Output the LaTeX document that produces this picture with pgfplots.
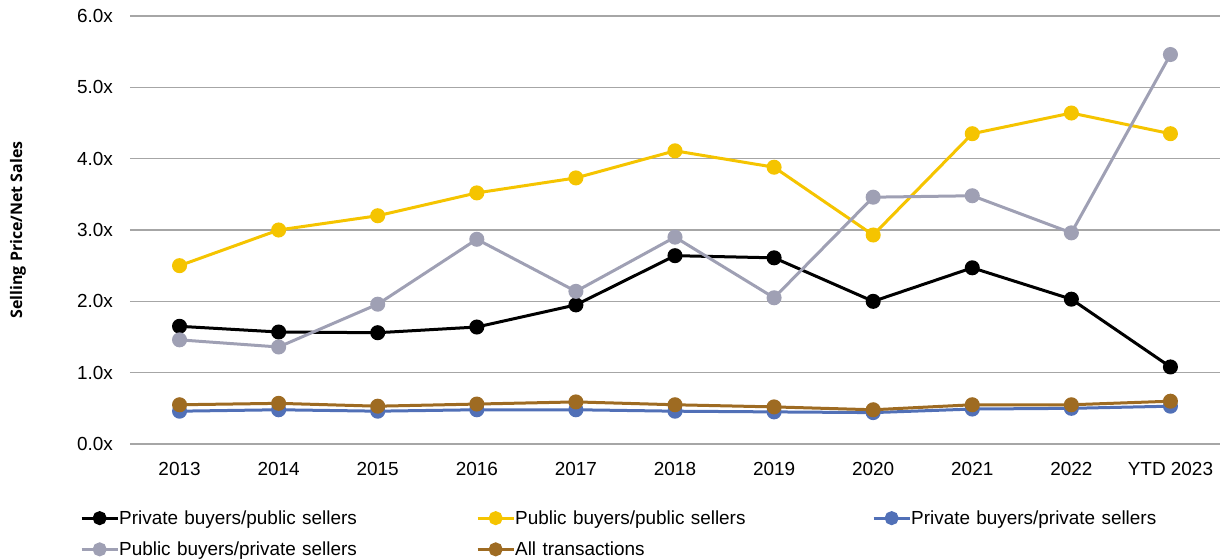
\documentclass[border=0pt]{standalone}
\usepackage{pgfplots}
\pgfplotsset{compat=1.18}
\usepackage{fontspec}
\setmainfont{Liberation Sans}
\newfontfamily\labfont{Open Sans}
\definecolor{cblack}{HTML}{000000}
\definecolor{cyellow}{HTML}{F5C400}
\definecolor{cgray}{HTML}{9FA0B4}
\definecolor{cblue}{HTML}{5170B7}
\definecolor{cbrown}{HTML}{9E6B22}
\definecolor{cgrid}{HTML}{A6A6A6}
\begin{document}
\begin{tikzpicture}
\begin{axis}[
  at={(0,0)}, anchor=south west,
  scale only axis, width=1090bp, height=428bp,
  xmin=-0.5, xmax=10.5, ymin=0, ymax=6,
  xtick={0,...,10},
  xticklabels={2013,2014,2015,2016,2017,2018,2019,2020,2021,2022,YTD 2023},
  ytick={0,1,...,6},
  yticklabel={\pgfmathprintnumber[fixed,fixed zerofill,precision=1]{\tick}x},
  /pgf/number format/assume math mode=true,
  axis line style={draw=none},
  major tick length=0pt,
  ymajorgrids, grid style={cgrid, line width=1.2bp},
  tick label style={font=\fontsize{19}{22}\selectfont},
  yticklabel style={inner xsep=0pt, xshift=-17bp},
  xticklabel style={yshift=-15bp},
  ylabel={Selling Price/Net Sales},
  every axis y label/.style={at={(axis description cs:-0.1028,0.5)}, rotate=90, anchor=center, font=\labfont\bfseries\fontsize{16}{18}\selectfont},
  every axis plot/.append style={line width=3bp, mark=*, mark size=6bp, mark options={solid}},
  legend columns=3,
  legend style={at={(axis description cs:-0.0459,-0.155)}, anchor=north west, draw=none, fill=none, inner sep=0pt,
    font=\fontsize{19}{22}\selectfont, row sep=16bp,
    nodes={inner sep=0pt, text width=357bp, align=left}},
  legend image code/.code={\draw[#1, mark=none] (0bp,0bp) -- (36bp,0bp); \fill[#1] (18bp,0bp) circle (5.5bp);},
  legend cell align=left,
]
\addplot[cblack] coordinates {(0,1.65)(1,1.57)(2,1.56)(3,1.64)(4,1.95)(5,2.64)(6,2.61)(7,2.00)(8,2.47)(9,2.03)(10,1.08)};
\addlegendentry{Private buyers/public sellers}
\addplot[cyellow] coordinates {(0,2.50)(1,3.00)(2,3.20)(3,3.52)(4,3.73)(5,4.11)(6,3.88)(7,2.93)(8,4.35)(9,4.64)(10,4.35)};
\addlegendentry{Public buyers/public sellers}
\addplot[cblue] coordinates {(0,0.46)(1,0.48)(2,0.46)(3,0.48)(4,0.48)(5,0.46)(6,0.45)(7,0.44)(8,0.49)(9,0.50)(10,0.53)};
\addlegendentry{Private buyers/private sellers}
\addplot[cgray] coordinates {(0,1.46)(1,1.36)(2,1.96)(3,2.87)(4,2.14)(5,2.90)(6,2.05)(7,3.46)(8,3.48)(9,2.96)(10,5.46)};
\addlegendentry{Public buyers/private sellers}
\addplot[cbrown] coordinates {(0,0.55)(1,0.57)(2,0.53)(3,0.56)(4,0.59)(5,0.55)(6,0.52)(7,0.48)(8,0.55)(9,0.55)(10,0.60)};
\addlegendentry{All transactions}
\end{axis}
\pgfresetboundingbox
\path[use as bounding box] (-130bp,-116bp) rectangle (1090bp,444bp);
\end{tikzpicture}
\end{document}
